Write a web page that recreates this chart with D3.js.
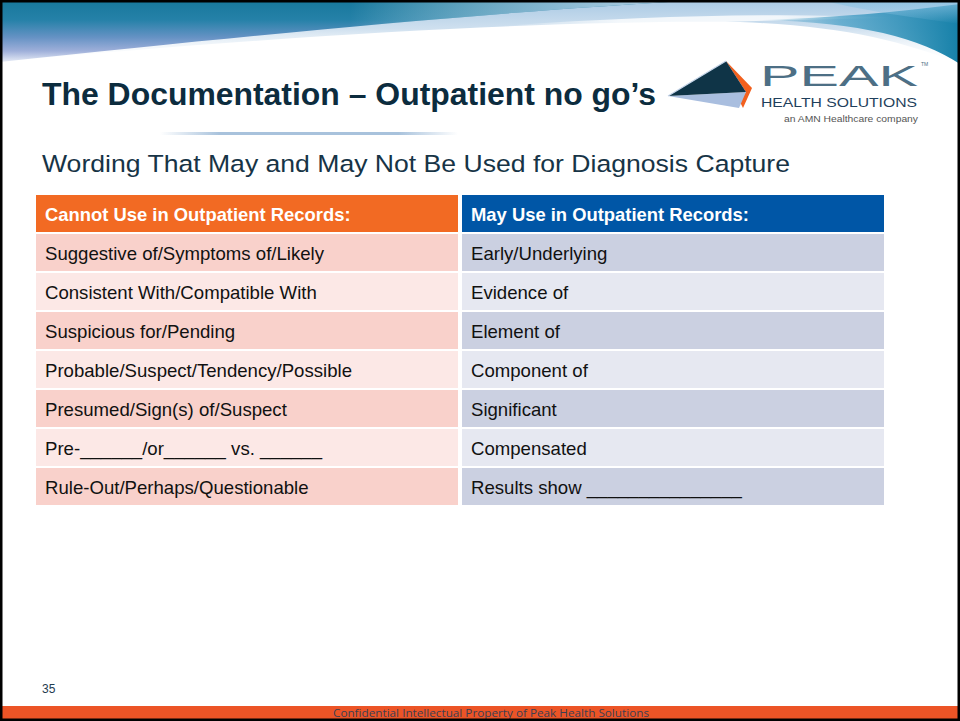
<!DOCTYPE html>
<html>
<head>
<meta charset="utf-8">
<script src="https://cdn.jsdelivr.net/npm/d3@7"></script>
<style>
html,body{margin:0;padding:0;background:#fff;}
svg{display:block;}
</style>
</head>
<body>
<script>
// ---- data ----
const titleText = "The Documentation \u2013 Outpatient no go\u2019s";
const subtitleText = "Wording That May and May Not Be Used for Diagnosis Capture";
const columnKeys = ["cannot", "may"];
const headers = ["Cannot Use in Outpatient Records:", "May Use in Outpatient Records:"];
const cannotUse = [
  "Suggestive of/Symptoms of/Likely",
  "Consistent With/Compatible With",
  "Suspicious for/Pending",
  "Probable/Suspect/Tendency/Possible",
  "Presumed/Sign(s) of/Suspect",
  "Pre-______/or______ vs. ______",
  "Rule-Out/Perhaps/Questionable"
];
const mayUse = [
  "Early/Underlying",
  "Evidence of",
  "Element of",
  "Component of",
  "Significant",
  "Compensated",
  "Results show _______________"
];
const pageNumber = "35";
const footerText = "Confidential Intellectual Property of Peak Health Solutions";

const W = 960, H = 721;
const svg = d3.select("body").append("svg").attr("width", W).attr("height", H);
const defs = svg.append("defs");

svg.append("rect").attr("width", W).attr("height", H).attr("fill", "#fff");

function grad(id, x1, y1, x2, y2, stops) {
  const g = defs.append("linearGradient").attr("id", id)
    .attr("x1", x1).attr("y1", y1).attr("x2", x2).attr("y2", y2);
  stops.forEach(s => g.append("stop").attr("offset", s[0]).attr("stop-color", s[1]).attr("stop-opacity", s[2] == null ? 1 : s[2]));
}

// ---- top wave ----
grad("bandLight", 0, 0, 0, 1, [[0, "#a9c9e4"], [0.45, "#cfe0ef"], [1, "#ffffff", 0]]);
grad("leftV", 0, 0, 0, 1, [[0, "#17789c"], [0.32, "#2581a8"], [0.6, "#6592c4"], [0.82, "#9eafd9"], [1, "#e6ebf6"]]);
grad("leftFade", 0, 0, 1, 0, [[0, "#ffffff", 0], [0.5, "#ffffff", 0], [0.78, "#c9ddef", 0.6], [1, "#bcd5ea", 1]]);
grad("rightTeal", 0, 0, 1, 0, [[0, "#2b8fbb", 0], [0.4, "#2a91bd", 0.6], [1, "#1580a8", 1]]);
grad("rightTop", 0, 0, 0, 1, [[0, "#8cc3e3", 0.8], [1, "#8cc3e3", 0]]);
grad("streak", 0, 0, 1, 0, [[0, "#ffffff", 0], [0.3, "#ffffff", 0.8], [0.7, "#ffffff", 0.8], [1, "#ffffff", 0]]);

svg.append("path").attr("d", "M0,0 H960 V64 C900,40 840,26 740,22 C560,20 300,34 0,62 Z").attr("fill", "url(#bandLight)");
svg.append("path").attr("d", "M0,0 H700 C500,12 300,30 0,62 Z").attr("fill", "url(#leftV)");
svg.append("path").attr("d", "M0,0 H700 C500,12 300,30 0,62 Z").attr("fill", "url(#leftFade)");
svg.append("path").attr("d", "M500,26 C640,16 780,12 900,18 C760,20 640,24 500,32 Z").attr("fill", "url(#streak)");
svg.append("path").attr("d", "M760,20 C860,22 920,38 960,64 V4 C900,12 830,18 760,20 Z").attr("fill", "url(#rightTeal)");
svg.append("path").attr("d", "M820,0 H960 V24 C920,18 880,14 820,0 Z").attr("fill", "url(#rightTop)");

// ---- title ----
svg.append("text").attr("x", 42).attr("y", 105)
  .attr("font-family", "'Liberation Sans', Arial, sans-serif").attr("font-weight", "bold")
  .attr("font-size", 31).attr("fill", "#0c2c3e")
  .attr("textLength", 614).attr("lengthAdjust", "spacingAndGlyphs")
  .text(titleText);

// divider line
grad("divider", 0, 0, 1, 0, [[0, "#a8c2dc", 0], [0.2, "#a8c2dc", 1], [0.8, "#a8c2dc", 1], [1, "#a8c2dc", 0]]);
svg.append("rect").attr("x", 160).attr("y", 132).attr("width", 298).attr("height", 3).attr("fill", "url(#divider)");

// ---- logo ----
const logo = svg.append("g");
logo.append("polygon").attr("points", "726,61 752,88 743,108 739,100 746,92").attr("fill", "#f2601e");
logo.append("polygon").attr("points", "668,96 746,92 739,108").attr("fill", "#a9bedf");
logo.append("polygon").attr("points", "668,96 726,61 746,92").attr("fill", "#0f3447");
logo.append("polyline").attr("points", "668,96 726,61").attr("stroke", "#c7d6ea").attr("stroke-width", 1.2).attr("fill", "none");
logo.append("text").attr("x", 760).attr("y", 86)
  .attr("font-family", "'Liberation Sans', Arial, sans-serif").attr("font-size", 29)
  .attr("fill", "#4d6f85").attr("textLength", 158).attr("lengthAdjust", "spacingAndGlyphs").text("PEAK");
logo.append("text").attr("x", 921).attr("y", 66)
  .attr("font-family", "'Liberation Sans', Arial, sans-serif").attr("font-size", 5)
  .attr("fill", "#4d6f85").text("TM");
logo.append("text").attr("x", 761).attr("y", 107)
  .attr("font-family", "'Liberation Sans', Arial, sans-serif").attr("font-size", 12)
  .attr("fill", "#1f3f5c").attr("textLength", 156).attr("lengthAdjust", "spacingAndGlyphs").text("HEALTH SOLUTIONS");
logo.append("text").attr("x", 918).attr("y", 122).attr("text-anchor", "end")
  .attr("font-family", "'Liberation Sans', Arial, sans-serif").attr("font-size", 9.5)
  .attr("fill", "#555").attr("textLength", 134).attr("lengthAdjust", "spacingAndGlyphs").text("an AMN Healthcare company");

// ---- subtitle ----
svg.append("text").attr("x", 42).attr("y", 172)
  .attr("font-family", "'Liberation Sans', Arial, sans-serif")
  .attr("font-size", 24.5).attr("fill", "#173446")
  .attr("textLength", 748).attr("lengthAdjust", "spacingAndGlyphs")
  .text(subtitleText);

// ---- table ----
const rowIdx = d3.range(cannotUse.length + 1);
const y = d3.scaleBand().domain(rowIdx).range([195, 505]).paddingInner(2 / 39).paddingOuter(0);
const x = d3.scaleBand().domain(columnKeys).range([36, 884]).paddingInner(4 / 426).paddingOuter(0);

const headerFill = {cannot: "#f26a23", may: "#0056a6"};
const fillDark = {cannot: "#f9d1cb", may: "#cbd0e1"};
const fillLight = {cannot: "#fce8e6", may: "#e6e8f1"};
const colData = {cannot: cannotUse, may: mayUse};

const table = svg.append("g");
columnKeys.forEach((k, ci) => {
  table.append("rect").attr("x", x(k)).attr("y", y(0)).attr("width", x.bandwidth()).attr("height", y.bandwidth())
    .attr("fill", headerFill[k]);
  table.append("text").attr("x", x(k) + 9).attr("y", y(0) + 26)
    .attr("font-family", "'Liberation Sans', Arial, sans-serif").attr("font-weight", "bold")
    .attr("font-size", 18.4).attr("fill", "#fff").text(headers[ci]);
  colData[k].forEach((t, i) => {
    const r = i + 1;
    table.append("rect").attr("x", x(k)).attr("y", y(r)).attr("width", x.bandwidth()).attr("height", y.bandwidth())
      .attr("fill", i % 2 === 0 ? fillDark[k] : fillLight[k]);
    table.append("text").attr("x", x(k) + 9).attr("y", y(r) + 26)
      .attr("font-family", "'Liberation Sans', Arial, sans-serif")
      .attr("font-size", 18.6).attr("fill", "#111").text(t);
  });
});

// ---- page number & footer ----
svg.append("text").attr("x", 42).attr("y", 693)
  .attr("font-family", "'Liberation Sans', Arial, sans-serif").attr("font-size", 12)
  .attr("fill", "#1f3c50").text(pageNumber);
svg.append("rect").attr("x", 0).attr("y", 706).attr("width", W).attr("height", 14).attr("fill", "#ec5426");
svg.append("text").attr("x", 491).attr("y", 717).attr("text-anchor", "middle")
  .attr("font-family", "'Open Sans', sans-serif").attr("font-size", 10.5)
  .attr("fill", "#3c3f52").attr("textLength", 316).attr("lengthAdjust", "spacingAndGlyphs").text(footerText);

// ---- slide border ----
svg.append("rect").attr("x", 1.25).attr("y", 1.25).attr("width", W - 2.5).attr("height", H - 2.5)
  .attr("fill", "none").attr("stroke", "#000").attr("stroke-width", 2.5);
</script>
</body>
</html>
